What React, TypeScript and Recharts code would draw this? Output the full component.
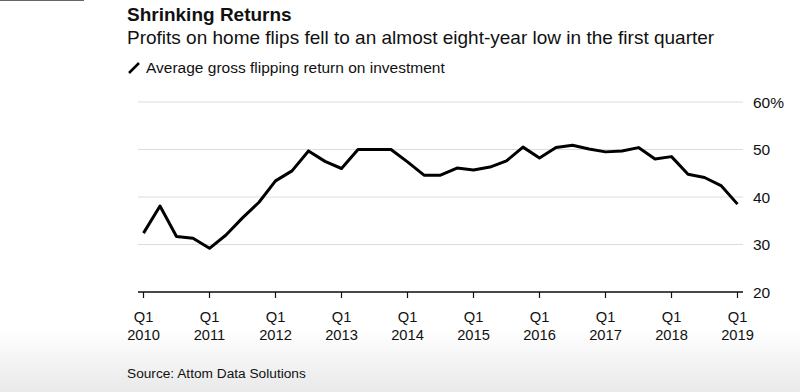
import React from 'react'
import { LineChart, Line, XAxis, YAxis, CartesianGrid } from 'recharts'

const quarters = [
  'Q1 2010', 'Q2 2010', 'Q3 2010', 'Q4 2010',
  'Q1 2011', 'Q2 2011', 'Q3 2011', 'Q4 2011',
  'Q1 2012', 'Q2 2012', 'Q3 2012', 'Q4 2012',
  'Q1 2013', 'Q2 2013', 'Q3 2013', 'Q4 2013',
  'Q1 2014', 'Q2 2014', 'Q3 2014', 'Q4 2014',
  'Q1 2015', 'Q2 2015', 'Q3 2015', 'Q4 2015',
  'Q1 2016', 'Q2 2016', 'Q3 2016', 'Q4 2016',
  'Q1 2017', 'Q2 2017', 'Q3 2017', 'Q4 2017',
  'Q1 2018', 'Q2 2018', 'Q3 2018', 'Q4 2018',
  'Q1 2019',
]

// average gross flipping return on investment, %
const returns = [
  32.4, 38.1, 31.7, 31.3,
  29.2, 32.0, 35.6, 38.9,
  43.4, 45.5, 49.7, 47.5,
  46.0, 50.0, 50.0, 50.0,
  47.4, 44.6, 44.6, 46.1,
  45.7, 46.3, 47.6, 50.5,
  48.2, 50.4, 50.9, 50.1,
  49.5, 49.7, 50.4, 48.0,
  48.5, 44.8, 44.1, 42.4,
  38.5,
]

const yTicks = [20, 30, 40, 50, 60]

const chartData = quarters.map((q, i) => ({ quarter: q, value: returns[i] }))

const FONT = '"Liberation Sans", Arial, Helvetica, sans-serif'

const QuarterTick = (props: any) => {
  const { x, y, payload } = props
  const [q, year] = String(payload.value).split(' ')
  return (
    <text x={x} y={y} textAnchor='middle' fill='#111' fontSize={14.7} fontFamily={FONT}>
      <tspan x={x} dy={21.5}>{q}</tspan>
      <tspan x={x} dy={18}>{year}</tspan>
    </text>
  )
}

export default function App() {
  return (
    <div
      style={{
        position: 'absolute',
        left: 0,
        top: 0,
        width: 800,
        height: 392,
        overflow: 'hidden',
        fontFamily: FONT,
        color: '#111',
        background: 'linear-gradient(to bottom, #ffffff 0%, #ffffff 84%, #e9e9e9 100%)',
      }}
    >
      <div style={{ position: 'absolute', left: 0, top: 0, width: 84, height: 1, background: '#666' }} />
      <div style={{ position: 'absolute', left: 127, top: 4, fontSize: 19, fontWeight: 'bold', whiteSpace: 'nowrap' }}>
        Shrinking Returns
      </div>
      <div style={{ position: 'absolute', left: 127, top: 27, fontSize: 19, whiteSpace: 'nowrap' }}>
        Profits on home flips fell to an almost eight-year low in the first quarter
      </div>
      <div style={{ position: 'absolute', left: 127, top: 59, fontSize: 15.5, whiteSpace: 'nowrap', display: 'flex', alignItems: 'center' }}>
        <svg width={14} height={14} style={{ marginRight: 5 }}>
          <line x1={2} y1={12} x2={12} y2={2} stroke='#000' strokeWidth={2.5} />
        </svg>
        Average gross flipping return on investment
      </div>
      <div style={{ position: 'absolute', left: 0, top: 0 }}>
        <LineChart width={800} height={392} data={chartData} margin={{ top: 102, right: 0, bottom: 40, left: 138 }}>
          <CartesianGrid vertical={false} stroke='#dcdcdc' strokeWidth={1} />
          <XAxis
            dataKey='quarter'
            interval={3}
            padding={{ left: 5.5, right: 5.5 }}
            tick={<QuarterTick />}
            tickSize={6}
            tickLine={{ stroke: '#111', strokeWidth: 1.2 }}
            axisLine={{ stroke: '#111', strokeWidth: 1.5 }}
            height={60}
          />
          <YAxis
            orientation='right'
            domain={[20, 60]}
            ticks={yTicks}
            axisLine={false}
            tickLine={false}
            tickSize={0}
            tickMargin={10}
            width={57}
            tick={{ fill: '#111', fontSize: 15.5, fontFamily: FONT, textAnchor: 'start' }}
            tickFormatter={(v: number) => (v === 60 ? `${v}%` : `${v}`)}
          />
          <Line
            type='linear'
            dataKey='value'
            stroke='#000'
            strokeWidth={3}
            strokeLinejoin='round'
            dot={false}
            activeDot={false}
            isAnimationActive={false}
          />
        </LineChart>
      </div>
      <div style={{ position: 'absolute', left: 127, top: 366, fontSize: 13.7, whiteSpace: 'nowrap' }}>
        Source: Attom Data Solutions
      </div>
    </div>
  )
}
